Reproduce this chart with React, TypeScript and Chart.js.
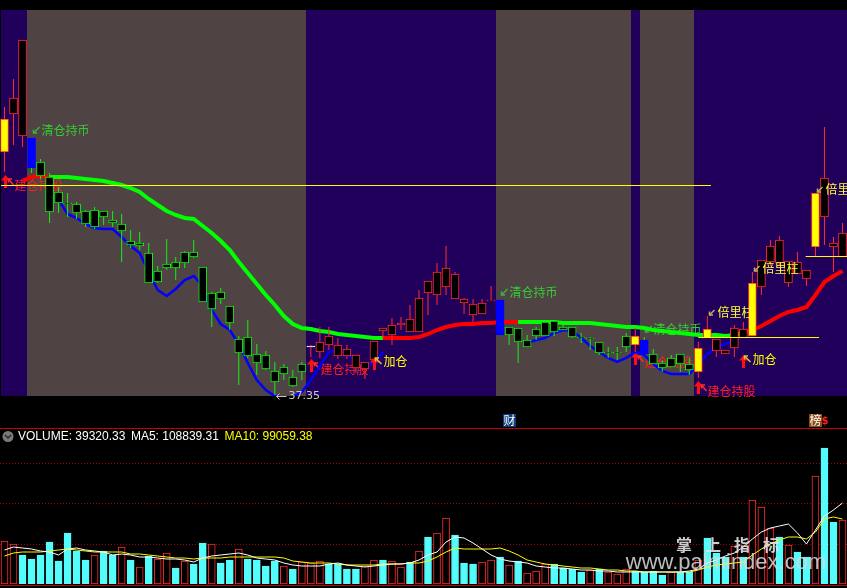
import React, { useEffect, useRef } from 'react';
import { Chart, registerables } from 'chart.js';

Chart.register(...registerables);

// ---------------- data ----------------
const days: string[] = Array.from({ length: 94 }, (_, i) => `T${i + 1}`);

const openPrice = [
  49.5, 51.4, 50.3, 50.2, 49.0, 48.25, 47.5, 46.95, 46.9, 46.55,
  46.6, 46.55, 46.1, 45.9, 45.05, 44.95, 44.45, 43.55, 43.9, 44.0,
  44.5, 44.5, 43.75, 42.45, 42.5, 41.8, 40.15, 40.25, 39.4, 39.35,
  38.55, 38.75, 38.25, 38.9, 39.8, 39.5, 39.85, 39.3, 39.3, 38.7,
  38.65, 39.1, 40.55, 40.35, 40.85, 40.5, 40.5, 42.45, 42.35, 42.75,
  42.15, 41.95, 41.35, 41.4, 42.05, 42.1, 40.75, 40.7, 40.1, 40.65,
  41.0, 41.05, 40.75, 40.75, 40.25, 40.2, 40.0, 39.5, 39.5, 40.3,
  39.85, 40.1, 39.4, 38.95, 39.2, 39.4, 38.9, 38.5, 40.2, 39.55,
  39.4, 39.7, 40.2, 40.3, 42.75, 44.0, 43.95, 42.95, 43.4, 43.15,
  44.75, 46.25, 44.75, 44.25,
];
const highPrice = [
  51.75, 53.15, 55.1, 50.2, 49.15, 48.45, 47.75, 47.45, 47.0, 46.6,
  46.75, 46.55, 46.55, 46.4, 45.6, 45.5, 44.95, 43.8, 45.15, 44.25,
  44.55, 45.1, 43.75, 42.5, 42.7, 41.8, 40.3, 41.1, 39.9, 39.55,
  39.0, 38.9, 38.6, 39.0, 39.85, 40.75, 40.75, 40.2, 39.85, 39.35,
  39.0, 40.05, 40.7, 41.2, 41.25, 41.85, 42.6, 43.05, 43.95, 44.8,
  43.5, 42.2, 42.15, 42.15, 42.8, 42.1, 40.75, 40.7, 40.35, 40.75,
  41.1, 41.05, 40.85, 40.75, 40.45, 40.25, 40.0, 39.75, 39.75, 40.45,
  40.7, 40.25, 39.65, 39.1, 39.35, 39.4, 39.2, 40.0, 41.3, 40.15,
  39.6, 40.85, 41.0, 43.5, 44.1, 45.1, 45.3, 44.05, 44.5, 43.6,
  47.45, 50.75, 45.25, 45.95,
];
const lowPrice = [
  48.5, 49.85, 49.75, 48.45, 48.15, 45.95, 46.45, 46.25, 46.15, 45.75,
  45.65, 45.85, 45.75, 44.0, 44.7, 44.6, 42.95, 42.95, 43.6, 43.1,
  43.7, 44.2, 42.0, 40.75, 41.9, 40.6, 37.85, 39.2, 38.35, 38.6,
  37.35, 38.1, 37.75, 38.1, 39.25, 39.2, 39.6, 39.15, 39.15, 38.45,
  38.15, 38.7, 40.2, 39.85, 40.6, 40.5, 40.5, 41.35, 41.85, 42.35,
  42.15, 41.4, 41.0, 41.4, 42.05, 40.35, 39.85, 38.95, 39.75, 40.1,
  40.3, 40.3, 40.6, 40.2, 39.95, 39.6, 39.35, 39.2, 39.1, 39.5,
  39.5, 39.4, 38.9, 38.5, 38.75, 38.5, 38.35, 38.2, 40.2, 39.25,
  39.4, 39.25, 40.2, 40.3, 42.35, 43.8, 43.8, 42.75, 43.4, 42.8,
  44.25, 44.85, 43.5, 44.25,
];
const closePrice = [
  51.15, 52.2, 55.1, 48.7, 48.3, 46.5, 46.95, 46.9, 46.45, 45.9,
  45.75, 46.25, 45.95, 45.55, 44.85, 44.8, 42.95, 43.0, 43.7, 43.7,
  43.95, 44.25, 42.0, 41.65, 42.15, 40.95, 39.45, 39.3, 38.95, 38.65,
  38.0, 38.4, 37.8, 38.5, 39.75, 40.0, 40.3, 39.85, 39.65, 39.35,
  39.0, 40.05, 40.7, 40.85, 40.95, 41.15, 42.2, 43.05, 43.5, 43.7,
  43.4, 42.15, 41.9, 41.95, 42.1, 40.35, 40.35, 40.0, 39.75, 40.3,
  40.3, 40.5, 40.6, 40.25, 40.2, 40.15, 39.45, 39.45, 39.45, 39.75,
  40.3, 39.4, 38.9, 38.7, 38.75, 38.9, 38.6, 39.7, 40.65, 40.15,
  39.6, 40.7, 40.65, 42.95, 44.1, 44.8, 45.1, 44.05, 44.0, 43.6,
  47.45, 48.2, 44.95, 45.45,
];
// y = double-volume up candle, r = up, g = down, b = sell-signal candle, w = doji
const candleKind = [
  'y', 'r', 'r', 'b', 'g', 'g', 'g', 'g', 'g', 'g',
  'g', 'g', 'g', 'g', 'g', 'g', 'g', 'g', 'g', 'g',
  'g', 'g', 'g', 'g', 'g', 'g', 'g', 'g', 'g', 'g',
  'g', 'g', 'g', 'g', 'w', 'r', 'r', 'r', 'r', 'r',
  'r', 'r', 'r', 'r', 'r', 'r', 'r', 'r', 'r', 'r',
  'r', 'r', 'r', 'r', 'r', 'b', 'g', 'g', 'g', 'g',
  'g', 'g', 'g', 'g', 'g', 'g', 'g', 'g', 'g', 'g',
  'y', 'b', 'g', 'g', 'g', 'g', 'g', 'y', 'y', 'r',
  'r', 'r', 'r', 'y', 'r', 'r', 'r', 'r', 'r', 'r',
  'y', 'r', 'r', 'r',
];
const trendLine = [
  null, null, 48.05, 48.25, 48.3, 48.25, 48.25, 48.25, 48.2, 48.15,
  48.1, 48.05, 47.95, 47.85, 47.7, 47.5, 47.15, 46.85, 46.55, 46.35,
  46.2, 46.15, 45.8, 45.45, 45.05, 44.6, 44.0, 43.45, 42.9, 42.35,
  41.85, 41.3, 40.9, 40.7, 40.65, 40.55, 40.5, 40.4, 40.35, 40.3,
  40.25, 40.2, 40.2, 40.2, 40.2, 40.2, 40.25, 40.4, 40.6, 40.75,
  40.85, 40.9, 40.9, 40.95, 40.95, 41.0, 41.0, 41.0, 41.0, 41.0,
  41.0, 41.0, 40.95, 40.95, 40.95, 40.95, 40.9, 40.85, 40.8, 40.75,
  40.75, 40.7, 40.6, 40.55, 40.5, 40.45, 40.4, 40.35, 40.35, 40.35,
  40.3, 40.35, 40.45, 40.6, 40.8, 41.05, 41.3, 41.5, 41.6, 41.75,
  42.35, 43.0, 43.3, 43.55,
];
// 1 = rising (red) state of the trend line, 0 = falling (green)
const trendRed = [
  1, 1, 1, 1, 1, 0, 0, 0, 0, 0,
  0, 0, 0, 0, 0, 0, 0, 0, 0, 0,
  0, 0, 0, 0, 0, 0, 0, 0, 0, 0,
  0, 0, 0, 0, 0, 0, 0, 0, 0, 0,
  0, 0, 1, 1, 1, 1, 1, 1, 1, 1,
  1, 1, 1, 1, 1, 1, 1, 0, 0, 0,
  0, 0, 0, 0, 0, 0, 0, 0, 0, 0,
  0, 0, 0, 0, 0, 0, 0, 0, 0, 0,
  0, 0, 1, 1, 1, 1, 1, 1, 1, 1,
  1, 1, 1, 1,
];
const shortLine = [
  null, null, null, null, null, null, 47.1, 46.4, 46.2, 45.9,
  45.7, 45.65, 45.65, 45.25, 44.8, 44.45, 43.5, 42.6, 42.3, 42.65,
  43.1, 43.3, 42.8, 41.6, 40.9, 40.6, 39.9, 38.95, 38.1, 37.6,
  37.3, 37.2, 37.25, 37.5, 38.1, 38.8, 39.5, 39.6, 39.4, 39.1,
  38.8, 38.95, 39.5, null, null, null, null, null, null, null,
  null, null, null, null, null, null, null, null, 39.95, 40.1,
  40.2, 40.45, 40.6, 40.55, 40.2, 39.8, 39.5, 39.2, 39.0, 39.2,
  39.5, 39.35, 38.9, 38.55, 38.4, 38.4, 38.4, 38.85, 39.4, 39.75,
  39.9, 40.05, null, null, null, null, null, null, null, null,
  null, null, null, null,
];
// 1 = empty-position (grey) zone, 0 = holding (purple) zone
const bandHold = [
  0, 0, 0, 1, 1, 1, 1, 1, 1, 1,
  1, 1, 1, 1, 1, 1, 1, 1, 1, 1,
  1, 1, 1, 1, 1, 1, 1, 1, 1, 1,
  1, 1, 1, 1, 0, 0, 0, 0, 0, 0,
  0, 0, 0, 0, 0, 0, 0, 0, 0, 0,
  0, 0, 0, 0, 0, 1, 1, 1, 1, 1,
  1, 1, 1, 1, 1, 1, 1, 1, 1, 1,
  0, 1, 1, 1, 1, 1, 1, 0, 0, 0,
  0, 0, 0, 0, 0, 0, 0, 0, 0, 0,
  0, 0, 0, 0,
];
const levelFrom = [-0.4, 77, 88.9];
const levelTo = [78.4, 90.4, 93.5];
const levelPrice = [47.85, 40.25, 44.3];

const signalIndex = [0, 3, 30, 34, 41, 55, 70, 71, 77, 78, 82, 83, 90];
const signalKind = ['buy', 'sell', 'low', 'buy', 'add', 'sell', 'buy', 'sell', 'buy', 'double', 'add', 'double', 'double'];
const signalPrice = [48.35, 50.2, 37.35, 39.15, 39.25, 42.1, 39.5, 40.25, 38.05, 41.3, 39.35, 43.5, 47.45];
const signalText: Record<string, string> = { buy: '建仓持股', sell: '清仓持币', add: '加仓', double: '倍里柱' };

const eventIndex = [56, 90];
const eventText = ['财', '榜'];

const volume = [
  43000, 40000, 29000, 25000, 29000, 42000, 23000, 51000, 33000, 24000,
  29000, 33000, 29000, 37000, 24000, 17000, 28000, 25000, 31000, 16000,
  23000, 20000, 41000, 40000, 21000, 24000, 35000, 25000, 24000, 18000,
  23000, 18000, 15000, 22000, 21000, 23000, 20000, 20000, 15000, 15000,
  18000, 24000, 24000, 23000, 17000, 22000, 33000, 47000, 51000, 66000,
  49000, 21000, 20000, 22000, 24000, 27000, 19000, 23000, 11000, 13000,
  20000, 20000, 16000, 15000, 12000, 14000, 15000, 12000, 10000, 15000,
  13000, 12000, 13000, 9000, 12000, 12000, 12000, 24000, 46000, 31000,
  27000, 38000, 27000, 84000, 77000, 56000, 47000, 39000, 32000, 27000,
  108000, 136000, 62000, 64000,
];
const volumeUp = [
  1, 1, 0, 0, 0, 0, 0, 0, 0, 0,
  1, 0, 0, 1, 0, 1, 0, 1, 1, 0,
  1, 0, 0, 1, 0, 0, 1, 0, 0, 0,
  0, 1, 0, 1, 1, 1, 0, 0, 0, 0,
  1, 1, 0, 1, 1, 0, 1, 0, 1, 1,
  0, 0, 0, 1, 1, 0, 1, 0, 1, 1,
  1, 0, 0, 0, 0, 1, 0, 1, 1, 1,
  0, 0, 0, 0, 1, 0, 0, 1, 0, 0,
  0, 1, 0, 1, 1, 1, 0, 1, 0, 0,
  1, 0, 0, 1,
];
const volMa5 = [
  34000, 37000, 36000, 35000, 33000, 32000, 29000, 35000, 36000, 34000,
  33000, 32000, 29000, 30000, 29000, 27000, 27000, 26000, 25000, 25000,
  24000, 22000, 26000, 28000, 29000, 30000, 31000, 29000, 26000, 25000,
  24000, 21000, 19000, 18000, 18000, 18000, 20000, 21000, 19000, 18000,
  17000, 18000, 19000, 20000, 20000, 21000, 24000, 29000, 32000, 42000,
  47000, 46000, 41000, 35000, 29000, 25000, 23000, 22000, 21000, 18000,
  17000, 16000, 16000, 15000, 14000, 14000, 13000, 13000, 12000, 12000,
  12000, 12000, 12000, 12000, 12000, 12000, 13000, 15000, 21000, 24000,
  28000, 31000, 37000, 45000, 52000, 56000, 58000, 60000, 51000, 40000,
  54000, 68000, 74000, 81000,
];
const volMa10 = [
  28000, 31000, 32000, 32000, 32000, 33000, 34000, 35000, 34000, 33000,
  32000, 32000, 32000, 32000, 30000, 30000, 29000, 28000, 27000, 26000,
  26000, 25000, 26000, 26000, 26000, 27000, 27000, 27000, 27000, 27000,
  27000, 26000, 23000, 22000, 21000, 21000, 21000, 20000, 19000, 19000,
  19000, 19000, 20000, 20000, 20000, 21000, 21000, 23000, 27000, 32000,
  36000, 35000, 35000, 35000, 35000, 36000, 33000, 29000, 24000, 22000,
  20000, 19000, 18000, 17000, 16000, 16000, 15000, 14000, 14000, 13000,
  13000, 12000, 12000, 12000, 12000, 12000, 12000, 14000, 17000, 19000,
  20000, 21000, 22000, 29000, 35000, 40000, 44000, 47000, 47000, 45000,
  52000, 65000, 67000, 65000,
];
const volGridTicks = [40500, 81000, 121500];
const legendVolume = '39320.33';
const legendMa5 = '108839.31';
const legendMa10 = '99059.38';

// ---------------- styles ----------------
const RED = '#ff2c2c';
const GREEN = '#14f014';
const CYAN = '#54fcfc';
const YELLOW = '#ffff00';
const BLUE = '#0000ff';
const PURPLE = '#21005c';
const GRAY = '#4f4343';
const CJK = '"Noto Sans CJK SC", sans-serif';

const bodyFill: Record<string, string> = { y: YELLOW, r: '#000000', g: '#000000', b: BLUE, w: '#ffffff' };
const bodyEdge: Record<string, string> = { y: RED, r: RED, g: GREEN, b: BLUE, w: '#ffffff' };
const wickCol: Record<string, string> = { y: RED, r: RED, g: GREEN, b: GREEN, w: RED };

function diagArrow(ctx: CanvasRenderingContext2D, tx: number, ty: number, ex: number, ey: number, color: string) {
  ctx.save();
  ctx.strokeStyle = color;
  ctx.lineWidth = 1.5;
  ctx.beginPath();
  ctx.moveTo(ex, ey);
  ctx.lineTo(tx, ty);
  ctx.stroke();
  const dx = Math.sign(ex - tx);
  const dy = Math.sign(ey - ty);
  ctx.beginPath();
  ctx.moveTo(tx + dx * 3.5, ty);
  ctx.lineTo(tx, ty);
  ctx.lineTo(tx, ty + dy * 3.5);
  ctx.stroke();
  ctx.restore();
}

function upArrow(ctx: CanvasRenderingContext2D, cx: number, top: number, color: string) {
  ctx.save();
  ctx.fillStyle = color;
  ctx.beginPath();
  ctx.moveTo(cx, top);
  ctx.lineTo(cx + 4.5, top + 5.5);
  ctx.lineTo(cx + 1.5, top + 5.5);
  ctx.lineTo(cx + 1.5, top + 13);
  ctx.lineTo(cx - 1.5, top + 13);
  ctx.lineTo(cx - 1.5, top + 5.5);
  ctx.lineTo(cx - 4.5, top + 5.5);
  ctx.closePath();
  ctx.fill();
  ctx.restore();
}

function drawSignals(chart: any, under: boolean) {
  const ctx: CanvasRenderingContext2D = chart.ctx;
  const xs = chart.scales.x;
  const ys = chart.scales.y;
  ctx.save();
  ctx.textBaseline = 'middle';
  ctx.textAlign = 'left';
  for (let k = 0; k < signalIndex.length; k++) {
    const kind = signalKind[k];
    const isUnder = kind === 'buy' || kind === 'sell';
    if (isUnder !== under) continue;
    const cx = Math.round(xs.getPixelForValue(signalIndex[k])) + 0.5;
    const ay = Math.round(ys.getPixelForValue(signalPrice[k]));
    ctx.font = `12px ${CJK}`;
    if (kind === 'buy') {
      upArrow(ctx, cx, ay, '#ff1010');
      diagArrow(ctx, cx + 3, ay + 4, cx + 8, ay + 10, RED);
      ctx.fillStyle = '#ff2020';
      ctx.fillText(signalText.buy, cx + 9, ay + 10);
    } else if (kind === 'sell') {
      diagArrow(ctx, cx + 1, ay - 5, cx + 7, ay - 11, '#3cb43c');
      ctx.fillStyle = '#36cc36';
      ctx.fillText(signalText.sell, cx + 9, ay - 8);
    } else if (kind === 'add') {
      upArrow(ctx, cx, ay, '#ff1010');
      diagArrow(ctx, cx + 1, ay + 1, cx + 7, ay + 7, '#e0c040');
      ctx.fillStyle = YELLOW;
      ctx.fillText(signalText.add, cx + 9, ay + 4);
    } else if (kind === 'double') {
      diagArrow(ctx, cx + 2, ay - 1, cx + 7, ay - 6, '#c0b060');
      ctx.fillStyle = '#ffff30';
      ctx.fillText(signalText.double, cx + 10, ay - 4);
    } else if (kind === 'low') {
      ctx.strokeStyle = '#c8c8c8';
      ctx.lineWidth = 1;
      ctx.beginPath();
      ctx.moveTo(cx + 11, ay + 1.5);
      ctx.lineTo(cx + 1, ay + 1.5);
      ctx.moveTo(cx + 4, ay - 1.5);
      ctx.lineTo(cx + 1, ay + 1.5);
      ctx.lineTo(cx + 4, ay + 4.5);
      ctx.stroke();
      ctx.fillStyle = '#c8c8c8';
      ctx.font = '11px "DejaVu Sans", sans-serif';
      ctx.fillText(signalPrice[k].toFixed(2), cx + 13, ay + 1);
    }
  }
  ctx.restore();
}

const topPlugin = {
  id: 'topDecor',
  beforeDraw(chart: any) {
    const ctx = chart.ctx;
    ctx.save();
    ctx.fillStyle = '#000000';
    ctx.fillRect(0, 0, chart.width, chart.height);
    ctx.restore();
  },
  beforeDatasetsDraw(chart: any) {
    const ctx: CanvasRenderingContext2D = chart.ctx;
    const xs = chart.scales.x;
    const area = chart.chartArea;
    const n = bandHold.length;
    ctx.save();
    let start = 0;
    for (let i = 1; i <= n; i++) {
      if (i === n || bandHold[i] !== bandHold[start]) {
        const x1 = Math.max(area.left + 1, Math.round(xs.getPixelForValue(start - 0.5)));
        const x2 = i === n ? area.right : Math.round(xs.getPixelForValue(i - 0.5));
        ctx.fillStyle = bandHold[start] ? GRAY : PURPLE;
        ctx.fillRect(x1, area.top, x2 - x1, area.bottom - area.top);
        start = i;
      }
    }
    ctx.restore();
    drawSignals(chart, true);
  },
  afterDatasetsDraw(chart: any) {
    const ctx: CanvasRenderingContext2D = chart.ctx;
    const xs = chart.scales.x;
    const ys = chart.scales.y;
    ctx.save();
    ctx.strokeStyle = YELLOW;
    ctx.lineWidth = 1;
    for (let k = 0; k < levelPrice.length; k++) {
      const y = Math.round(ys.getPixelForValue(levelPrice[k])) + 0.5;
      ctx.beginPath();
      ctx.moveTo(Math.max(1, xs.getPixelForValue(levelFrom[k])), y);
      ctx.lineTo(Math.min(chart.chartArea.right, xs.getPixelForValue(levelTo[k])), y);
      ctx.stroke();
    }
    ctx.restore();
    drawSignals(chart, false);
  },
  afterDraw(chart: any) {
    const ctx: CanvasRenderingContext2D = chart.ctx;
    const xs = chart.scales.x;
    ctx.save();
    ctx.textBaseline = 'middle';
    ctx.textAlign = 'center';
    for (let k = 0; k < eventIndex.length; k++) {
      const cx = Math.round(xs.getPixelForValue(eventIndex[k]));
      const x0 = cx - 6;
      ctx.fillStyle = k === 0 ? '#0c3c7c' : '#8c4c14';
      ctx.fillRect(x0, 414, 13, 13);
      ctx.fillStyle = '#ffffff';
      ctx.font = `12px ${CJK}`;
      ctx.fillText(eventText[k], x0 + 6.5, 420.5);
      if (k === 1) {
        ctx.fillStyle = '#ff2020';
        ctx.font = 'bold 10px "DejaVu Sans", sans-serif';
        ctx.fillText('$', x0 + 16, 421);
      }
    }
    ctx.restore();
  },
};

const volPlugin = {
  id: 'volDecor',
  beforeDraw(chart: any) {
    const ctx: CanvasRenderingContext2D = chart.ctx;
    ctx.save();
    ctx.fillStyle = '#000000';
    ctx.fillRect(0, 0, chart.width, chart.height);
    ctx.fillStyle = '#c80000';
    ctx.fillRect(0, 0, chart.width, 1);
    ctx.fillRect(0, 157, chart.width, 1);
    ctx.restore();
  },
  beforeDatasetsDraw(chart: any) {
    const ctx: CanvasRenderingContext2D = chart.ctx;
    const ys = chart.scales.y;
    ctx.save();
    ctx.strokeStyle = '#a80000';
    ctx.lineWidth = 1;
    ctx.setLineDash([1, 2]);
    for (const v of volGridTicks) {
      const y = Math.round(ys.getPixelForValue(v)) + 0.5;
      ctx.beginPath();
      ctx.moveTo(0, y);
      ctx.lineTo(chart.width, y);
      ctx.stroke();
    }
    ctx.restore();
  },
  afterDraw(chart: any) {
    const ctx: CanvasRenderingContext2D = chart.ctx;
    ctx.save();
    // legend icon
    ctx.fillStyle = '#7a7a7a';
    ctx.beginPath();
    ctx.arc(8, 8.5, 5.5, 0, Math.PI * 2);
    ctx.fill();
    ctx.strokeStyle = '#2a2a2a';
    ctx.lineWidth = 1.5;
    ctx.beginPath();
    ctx.moveTo(5, 7);
    ctx.lineTo(8, 10);
    ctx.lineTo(11, 7);
    ctx.stroke();
    ctx.textBaseline = 'middle';
    ctx.textAlign = 'left';
    ctx.font = '12px "Liberation Sans", Arial, sans-serif';
    let x = 18;
    const parts: [string, string][] = [
      [`VOLUME: ${legendVolume}`, '#ffffff'],
      [`MA5: ${legendMa5}`, '#ffffff'],
      [`MA10: ${legendMa10}`, YELLOW],
    ];
    for (const [t, c] of parts) {
      ctx.fillStyle = c;
      ctx.fillText(t, x, 8.5);
      x += ctx.measureText(t).width + 5.5;
    }
    // watermark
    ctx.textAlign = 'center';
    ctx.fillStyle = 'rgba(225,225,225,0.92)';
    ctx.font = `bold 16px ${CJK}`;
    const wm = ['掌', '上', '指', '标'];
    for (let k = 0; k < wm.length; k++) ctx.fillText(wm[k], 684 + k * 29, 117);
    ctx.font = '22px "Liberation Sans", Arial, sans-serif';
    ctx.fillStyle = 'rgba(215,215,215,0.88)';
    ctx.fillText('www.palmindex.com', 726, 135);
    ctx.restore();
  },
};

export default function App() {
  const topRef = useRef<HTMLCanvasElement>(null);
  const volRef = useRef<HTMLCanvasElement>(null);

  useEffect(() => {
    let top: Chart | null = null;
    let vol: Chart | null = null;
    let alive = true;
    const build = () => {
      if (!alive || !topRef.current || !volRef.current) return;
      const bodies = openPrice.map((o, i) => [o, closePrice[i]]);
      const wicks = lowPrice.map((l, i) => [l, highPrice[i]]);
      top = new Chart(topRef.current, {
        type: 'bar',
        data: {
          labels: days,
          datasets: [
            {
              type: 'bar',
              data: bodies as any,
              backgroundColor: candleKind.map((k) => bodyFill[k]),
              borderColor: candleKind.map((k) => bodyEdge[k]),
              borderWidth: 1,
              borderSkipped: false,
              barThickness: 8,
              grouped: false,
              order: 1,
            } as any,
            {
              type: 'bar',
              data: wicks as any,
              backgroundColor: candleKind.map((k) => wickCol[k]),
              borderWidth: 0,
              barThickness: 1,
              inflateAmount: 0,
              grouped: false,
              order: 2,
            } as any,
            {
              type: 'line',
              data: trendLine as any,
              borderColor: GREEN,
              borderWidth: 4,
              pointRadius: 0,
              tension: 0,
              spanGaps: false,
              segment: {
                borderColor: (c: any) => (trendRed[c.p0DataIndex] ? '#ff0000' : '#00ff00'),
              },
              order: 3,
            } as any,
            {
              type: 'line',
              data: shortLine as any,
              borderColor: BLUE,
              borderWidth: 2.5,
              pointRadius: 0,
              tension: 0,
              spanGaps: false,
              order: 4,
            } as any,
          ],
        },
        options: {
          responsive: false,
          animation: false,
          events: [],
          layout: { padding: { left: 0, right: 0, top: 10, bottom: 32 } },
          plugins: { legend: { display: false }, tooltip: { enabled: false } },
          scales: {
            x: { display: false, offset: true, grid: { display: false } },
            y: { display: false, min: 37.3, max: 56.6 },
          },
        },
        plugins: [topPlugin],
      });
      vol = new Chart(volRef.current, {
        type: 'bar',
        data: {
          labels: days,
          datasets: [
            {
              type: 'line',
              data: volMa5,
              borderColor: '#ffffff',
              borderWidth: 1,
              pointRadius: 0,
              tension: 0,
              order: 0,
            } as any,
            {
              type: 'line',
              data: volMa10,
              borderColor: YELLOW,
              borderWidth: 1,
              pointRadius: 0,
              tension: 0,
              order: 1,
            } as any,
            {
              type: 'bar',
              data: volume,
              backgroundColor: volumeUp.map((u) => (u ? '#000000' : CYAN)),
              borderColor: volumeUp.map((u) => (u ? RED : CYAN)),
              borderWidth: 1,
              borderSkipped: false,
              barThickness: 7,
              grouped: false,
              order: 2,
            } as any,
          ],
        },
        options: {
          responsive: false,
          animation: false,
          events: [],
          layout: { padding: { left: 0, right: 0, top: 12, bottom: 4 } },
          plugins: { legend: { display: false }, tooltip: { enabled: false } },
          scales: {
            x: { display: false, offset: true, grid: { display: false } },
            y: { display: false, min: 0, max: 144000 },
          },
        },
        plugins: [volPlugin],
      });
    };
    const fonts = (document as any).fonts;
    if (fonts && fonts.load) {
      Promise.all([
        fonts.load(`12px ${CJK}`, '建仓持股清仓持币加仓倍里柱财榜'),
        fonts.load(`bold 16px ${CJK}`, '掌上指标'),
        fonts.load('12px "Liberation Sans"'),
        fonts.load('11px "DejaVu Sans"'),
      ]).then(build, build);
    } else {
      build();
    }
    return () => {
      alive = false;
      if (top) top.destroy();
      if (vol) vol.destroy();
    };
  }, []);

  return (
    <div style={{ position: 'fixed', left: 0, top: 0, width: 847, height: 588, background: '#000', overflow: 'hidden' }}>
      <canvas ref={topRef} width={847} height={428} style={{ display: 'block', width: 847, height: 428 }} />
      <canvas ref={volRef} width={847} height={160} style={{ display: 'block', width: 847, height: 160 }} />
    </div>
  );
}
